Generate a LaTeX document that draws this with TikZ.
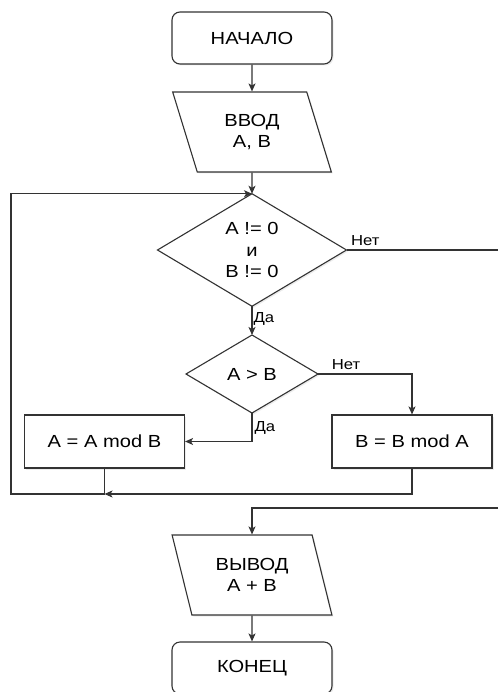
\documentclass[tikz,border=0pt]{standalone}
\usepackage{fontspec}
\setmainfont{Liberation Sans}[FakeStretch=1.15]
\usetikzlibrary{positioning, arrows.meta, shapes.geometric, shadows}

\definecolor{linegray}{HTML}{333333}

\begin{document}
\begin{tikzpicture}[
                x=1pt, y=-1pt,
                arrow/.style={-{Stealth[length=8pt, width=7pt, inset=2pt]}, line width=1.1pt, draw=linegray},
                line/.style={line width=1.1pt, draw=linegray},
                textstyle/.style={font=\fontsize{17.5}{21.5}\selectfont, align=center, text=black},
                labelstyle/.style={font=\fontsize{14.5}{16}\selectfont, text=black, inner sep=2pt},
                boxshadow/.style={drop shadow={opacity=0.15, shadow xshift=1.5pt, shadow yshift=-1.5pt}},
                terminal/.style={textstyle, draw=linegray, line width=1.1pt, fill=white, boxshadow,
                    rounded corners=8pt, minimum width=160pt, minimum height=52pt},
                iobox/.style={textstyle, draw=linegray, line width=1.1pt, fill=white, boxshadow,
                    trapezium, trapezium left angle=108, trapezium right angle=72,
                    trapezium stretches=true, minimum width=160pt, minimum height=80pt},
                decision/.style={textstyle, draw=linegray, line width=1.1pt, fill=white, boxshadow,
                    diamond, inner sep=1pt, outer sep=0pt},
                process/.style={textstyle, draw=linegray, line width=1.1pt, fill=white, boxshadow,
                    minimum width=160pt, minimum height=53pt}
            ]
                \useasboundingbox (0,0) rectangle (498,692);

                % Start node
                \node[terminal] (start) at (252,38) {НАЧАЛО};

                % Input node
                \node[iobox] (input) at (252,132) {ВВОД\\A, B};

                % Loop condition
                \node[decision, minimum width=189pt, minimum height=110pt] (cond) at (252,250) {A != 0\\и\\B != 0};

                % Comparison
                \node[decision, minimum width=132pt, minimum height=78pt] (cmp) at (252,374) {A > B};

                % Both branches
                \node[process] (modA) at (104.5,441.5) {A = A mod B};
                \node[process] (modB) at (412,441.5) {B = B mod A};

                % Output and end
                \node[iobox] (output) at (252,575) {ВЫВОД\\A + B};
                \node[terminal] (finish) at (252,668) {КОНЕЦ};

                % Free ends of the connectors
                \coordinate (loopL) at (11,494);
                \coordinate (merge) at (modA.south |- loopL);
                \coordinate (exitR) at (498,250);
                \coordinate (backR) at (498,508);

                % Arrows
                \draw[arrow] (start.south) -- (input.north);
                \draw[arrow] (input.south) -- (cond.north);
                \draw[arrow] (cond.south) -- node[labelstyle, pos=0.45, right, inner sep=1pt] {Да} (cmp.north);
                \draw[arrow] (cmp.east) -| node[labelstyle, pos=0.05, above right, inner sep=4pt] {Нет} (modB.north);
                \draw[arrow] (cmp.south) |- node[labelstyle, pos=0.27, right] {Да} (modA.east);
                \draw[arrow] (modB.south) |- (merge);
                \draw[arrow] (modA.south) -- (merge) -- (loopL) |- (cond.north);
                \draw[line] (cond.east) -- node[labelstyle, pos=0, above right, inner sep=4pt] {Нет} (exitR);
                \draw[arrow] (backR) -| (output.north);
                \draw[arrow] (output.south) -- (finish.north);
            \end{tikzpicture}
\end{document}
